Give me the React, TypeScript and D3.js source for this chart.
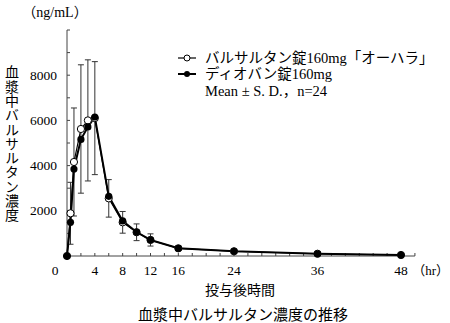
import React from 'react';
import * as d3 from 'd3';

// time points (hr)
const times = [0, 0.5, 1, 2, 3, 4, 6, 8, 10, 12, 16, 24, 36, 48];
// バルサルタン錠160mg「オーハラ」 (open circles)
const ohara = [0, 1890, 4160, 5620, 6000, 6100, 2550, 1490, 1050, 710, 340, 210, 100, 45];
const oharaSd = [0, 1370, 2390, 2840, 2680, 2500, 830, 480, 370, 270, 100, 60, 30, 15];
// ディオバン錠160mg (filled circles)
const diovan = [0, 1490, 3850, 5160, 5710, 6150, 2640, 1550, 1060, 710, 340, 210, 100, 45];

const xTickLabels = [4, 8, 12, 16, 24, 36, 48];
const yTickLabels = [2000, 4000, 6000, 8000];
const yTitle = '血漿中バルサルタン濃度';
const legendLabels = ['バルサルタン錠160mg「オーハラ」', 'ディオバン錠160mg', 'Mean ± S. D.，n=24'];

const serif = "'Liberation Serif', 'Noto Sans CJK JP', serif";
const gothic = "'Noto Sans CJK JP', sans-serif";

export default function App() {
  const width = 450;
  const height = 323;
  const x = d3.scaleLinear().domain([0, 48]).range([67, 401]);
  const y = d3.scaleLinear().domain([0, 10000]).range([256, 30]);

  const line = d3.line<number>()
    .x((_, i) => x(times[i]))
    .y(d => y(d));

  const xMinor = d3.range(0, 51, 2);
  const yMinor = d3.range(0, 10001, 1000);
  const axisColor = '#444';

  return (
    <svg width={width} height={height} style={{ position: 'absolute', left: 0, top: 0, background: '#fff' }}>
      {/* unit */}
      <text x={55} y={17} textAnchor="middle" fontFamily={serif} fontSize={14}>（ng/mL）</text>

      {/* y axis */}
      <line x1={x(0)} x2={x(0)} y1={y(10000)} y2={y(0)} stroke={axisColor} strokeWidth={1} />
      {yMinor.map(v => (
        <line key={v} x1={x(0)} x2={x(0) + 3} y1={y(v)} y2={y(v)} stroke={axisColor} />
      ))}
      {yTickLabels.map(v => (
        <text key={v} x={57} y={y(v) + 4.5} textAnchor="end" fontFamily={serif} fontSize={13.5}>{v}</text>
      ))}

      {/* x axis */}
      <line x1={x(0)} x2={x(50)} y1={y(0)} y2={y(0)} stroke={axisColor} strokeWidth={1} />
      {xMinor.map(t => (
        <line key={t} x1={x(t)} x2={x(t)} y1={y(0)} y2={y(0) - 3} stroke={axisColor} />
      ))}
      <text x={55} y={275} textAnchor="middle" fontFamily={serif} fontSize={13.5}>0</text>
      {xTickLabels.map(t => (
        <text key={t} x={x(t)} y={275} textAnchor="middle" fontFamily={serif} fontSize={13.5}>{t}</text>
      ))}
      <text x={449} y={275} textAnchor="end" fontFamily={serif} fontSize={13}>（hr）</text>

      {/* y title, vertical */}
      <text x={12} y={65} fontFamily={gothic} fontSize={14} letterSpacing={0.3}
        style={{ writingMode: 'vertical-rl' }}>{yTitle}</text>

      {/* error bars */}
      {times.map((t, i) => {
        if (!oharaSd[i] || t === 0) return null;
        const top = y(ohara[i] + oharaSd[i]);
        const bot = y(Math.max(0, ohara[i] - oharaSd[i]));
        const cx = x(t);
        return (
          <g key={t} stroke="#333" strokeWidth={1}>
            <line x1={cx} x2={cx} y1={top} y2={bot} />
            <line x1={cx - 3} x2={cx + 3} y1={top} y2={top} />
            <line x1={cx - 3} x2={cx + 3} y1={bot} y2={bot} />
          </g>
        );
      })}

      {/* lines */}
      <path d={line(ohara) ?? ''} fill="none" stroke="#000" strokeWidth={1.2} />
      <path d={line(diovan) ?? ''} fill="none" stroke="#000" strokeWidth={2} />

      {/* markers */}
      {ohara.map((v, i) => (
        <circle key={'o' + i} cx={x(times[i])} cy={y(v)} r={3.6} fill="#fff" stroke="#000" strokeWidth={1} />
      ))}
      {diovan.map((v, i) => (
        <circle key={'d' + i} cx={x(times[i])} cy={y(v)} r={3.6} fill="#000" />
      ))}

      {/* legend */}
      <line x1={178} x2={196} y1={58} y2={58} stroke="#000" strokeWidth={1.2} />
      <circle cx={187} cy={58} r={3} fill="#fff" stroke="#000" />
      <text x={205} y={63} fontFamily={serif} fontSize={14.5}>{legendLabels[0]}</text>
      <line x1={178} x2={196} y1={74} y2={74} stroke="#000" strokeWidth={2} />
      <circle cx={187} cy={74} r={3} fill="#000" />
      <text x={205} y={79} fontFamily={serif} fontSize={14.5}>{legendLabels[1]}</text>
      <text x={205} y={95.5} fontFamily={serif} fontSize={14.5}>{legendLabels[2]}</text>

      {/* bottom titles */}
      <text x={240} y={295} textAnchor="middle" fontFamily={gothic} fontSize={14}>投与後時間</text>
      <text x={243} y={320} textAnchor="middle" fontFamily={gothic} fontSize={15}>血漿中バルサルタン濃度の推移</text>
    </svg>
  );
}
